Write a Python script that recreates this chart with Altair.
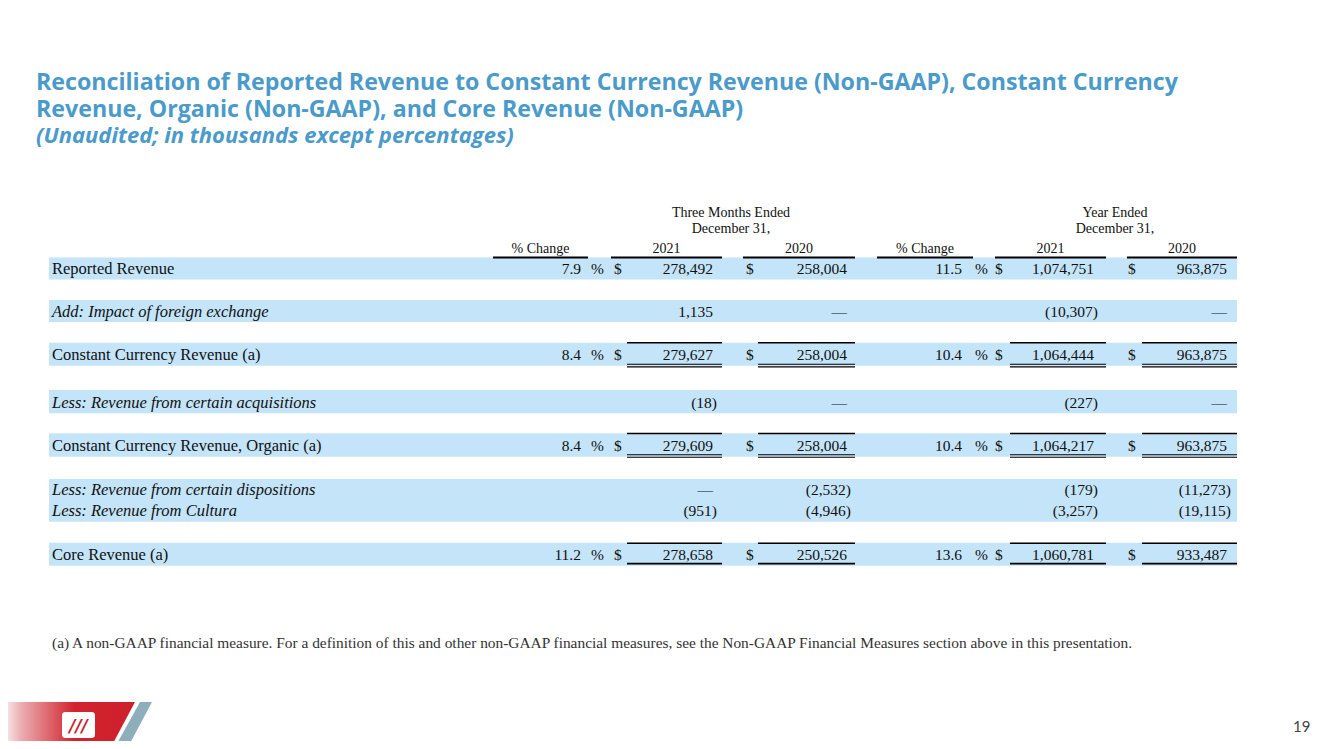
import altair as alt
import pandas as pd

# ---------------- data ----------------
title_lines = [
    "Reconciliation of Reported Revenue to Constant Currency Revenue (Non-GAAP), Constant Currency",
    "Revenue, Organic (Non-GAAP), and Core Revenue (Non-GAAP)",
]
subtitle = "(Unaudited; in thousands except percentages)"
group_headers = [["Three Months Ended", "December 31,"], ["Year Ended", "December 31,"]]
col_headers = ["% Change", "2021", "2020", "% Change", "2021", "2020"]

labels = [
    "Reported Revenue",
    "Add: Impact of foreign exchange",
    "Constant Currency Revenue (a)",
    "Less: Revenue from certain acquisitions",
    "Constant Currency Revenue, Organic (a)",
    "Less: Revenue from certain dispositions",
    "Less: Revenue from Cultura",
    "Core Revenue (a)",
]
italic_rows = [False, True, False, True, False, True, True, False]
qtr_pct = ["7.9", "", "8.4", "", "8.4", "", "", "11.2"]
qtr_2021 = ["278,492", "1,135", "279,627", "(18)", "279,609", "\u2014", "(951)", "278,658"]
qtr_2020 = ["258,004", "\u2014", "258,004", "\u2014", "258,004", "(2,532)", "(4,946)", "250,526"]
yr_pct = ["11.5", "", "10.4", "", "10.4", "", "", "13.6"]
yr_2021 = ["1,074,751", "(10,307)", "1,064,444", "(227)", "1,064,217", "(179)", "(3,257)", "1,060,781"]
yr_2020 = ["963,875", "\u2014", "963,875", "\u2014", "963,875", "(11,273)", "(19,115)", "933,487"]
footnote = ("(a) A non-GAAP financial measure. For a definition of this and other non-GAAP financial "
            "measures, see the Non-GAAP Financial Measures section above in this presentation.")
page_number = "19"

# ---------------- layout ----------------
W, H = 1317, 733
xs = alt.Scale(domain=[8, 8 + W], nice=False, zero=False)
ys = alt.Scale(domain=[8, 8 + H], nice=False, zero=False, reverse=True)
SERIF = "Liberation Serif"
SANS = "Open Sans"
TITLE_COLOR = "#4A9ACA"
BAND_COLOR = "#C4E4F9"

row_base = [274, 316.5, 359.5, 407.5, 450.5, 495, 516, 559.5]
bands = [(257.5, 279.5), (300, 322), (342.7, 365.7), (390, 413.3),
         (433.3, 456.7), (479, 521.7), (542.7, 565.7)]
band_x = (49, 1237)
value_cols = [581, 713, 847, 962, 1094, 1227]   # right edges
pct_sign_x = [591, 975]
dollar_x = [614, 746, 995, 1128]
hdr_lines = [(493, 588), (611, 722), (743, 855), (877, 973), (995, 1106), (1127, 1237)]
total_lines = [(627, 722), (758, 855), (1010, 1106), (1142, 1237)]
total_rows = [2, 4, 7]
total_top = {2: 342.7, 4: 433.5, 7: 543.3}
double_under = {2: (364.3, 366.9), 4: (454.7, 457.3)}
single_under = {7: 563.6}


def X(f="x"):
    return alt.X(f"{f}:Q", scale=xs, axis=None)


def Y(f="y"):
    return alt.Y(f"{f}:Q", scale=ys, axis=None)


def text_layer(rows, **mk):
    df = pd.DataFrame(rows, columns=["x", "y", "t"])
    return alt.Chart(df).mark_text(baseline="alphabetic", **mk).encode(
        x=X(), y=Y(), text="t:N")


layers = []

# bands
bdf = pd.DataFrame([{"x": band_x[0], "x2": band_x[1], "y": a, "y2": b} for a, b in bands])
layers.append(alt.Chart(bdf).mark_rect(color=BAND_COLOR).encode(
    x=X(), x2="x2:Q", y=Y(), y2="y2:Q"))

# title
layers.append(text_layer([(36, 90, title_lines[0]), (36, 117, title_lines[1])],
                         font=SANS, fontSize=23.2, fontWeight="bold", color=TITLE_COLOR, align="left"))
layers.append(text_layer([(36, 143, subtitle)],
                         font=SANS, fontSize=22, fontWeight="bold", fontStyle="italic",
                         color=TITLE_COLOR, align="left"))

# headers
hdr = []
for gi, cx in enumerate([731, 1115]):
    hdr.append((cx, 217, group_headers[gi][0]))
    hdr.append((cx, 233, group_headers[gi][1]))
for (a, b), h in zip(hdr_lines, col_headers):
    hdr.append(((a + b) / 2, 253, h))
layers.append(text_layer(hdr, font=SERIF, fontSize=14, color="#111", align="center"))

hl = pd.DataFrame([{"x": a, "x2": b, "y": 257.5} for a, b in hdr_lines])
layers.append(alt.Chart(hl).mark_rule(color="#000", strokeWidth=2).encode(x=X(), x2="x2:Q", y=Y()))

# row labels
norm = [(52, row_base[i], l) for i, l in enumerate(labels) if not italic_rows[i]]
ital = [(52, row_base[i], l) for i, l in enumerate(labels) if italic_rows[i]]
layers.append(text_layer(norm, font=SERIF, fontSize=16.5, color="#111", align="left"))
layers.append(text_layer(ital, font=SERIF, fontSize=16.5, fontStyle="italic", color="#111", align="left"))

# values
vals = []
for ci, col in enumerate([qtr_pct, qtr_2021, qtr_2020, yr_pct, yr_2021, yr_2020]):
    for i, v in enumerate(col):
        if v:
            dx = 4 if v.endswith(")") else 0
            vals.append((value_cols[ci] + dx, row_base[i], v))
layers.append(text_layer(vals, font=SERIF, fontSize=15.5, color="#111", align="right"))

syms = []
for i in range(len(labels)):
    if qtr_pct[i]:
        syms += [(pct_sign_x[0], row_base[i], "%"), (pct_sign_x[1], row_base[i], "%")]
        syms += [(dx, row_base[i], "$") for dx in dollar_x]
layers.append(text_layer(syms, font=SERIF, fontSize=15.5, color="#111", align="left"))

# total lines
tl = []
for r in total_rows:
    for a, b in total_lines:
        tl.append({"x": a, "x2": b, "y": total_top[r], "w": 1.6})
        if r in double_under:
            for yy in double_under[r]:
                tl.append({"x": a, "x2": b, "y": yy, "w": 1.1})
        if r in single_under:
            tl.append({"x": a, "x2": b, "y": single_under[r], "w": 1.8})
tldf = pd.DataFrame(tl)
layers.append(alt.Chart(tldf).mark_rule(color="#000").encode(
    x=X(), x2="x2:Q", y=Y(), strokeWidth=alt.StrokeWidth("w:Q", scale=None, legend=None)))

# footnote and page number
layers.append(text_layer([(52, 648, footnote)], font=SERIF, fontSize=15.4, color="#333", align="left"))
layers.append(text_layer([(1293, 731.5, page_number)], font="Lato", fontSize=15, color="#444", align="left"))

# logo band
red = pd.DataFrame({"y": [702, 749], "x": [0, 0], "x2": [135, 110]})
layers.append(alt.Chart(red).mark_area(
    orient="horizontal",
    color=alt.Gradient(gradient="linear", x1=0, x2=1, y1=0, y2=0,
                       stops=[alt.GradientStop(color="#FFFFFF", offset=0),
                              alt.GradientStop(color="#EBB0B4", offset=0.15),
                              alt.GradientStop(color="#D2242F", offset=0.55),
                              alt.GradientStop(color="#CE1F2C", offset=1)])
).encode(y=Y(), x=X(), x2="x2:Q"))
gray = pd.DataFrame({"y": [702, 749], "x": [140, 114], "x2": [152, 127]})
layers.append(alt.Chart(gray).mark_area(orient="horizontal", color="#8CAFBA").encode(
    y=Y(), x=X(), x2="x2:Q"))
sq = pd.DataFrame([{"x": 62, "x2": 95, "y": 712, "y2": 738}])
layers.append(alt.Chart(sq).mark_rect(color="#FFFFFF", cornerRadius=3).encode(
    x=X(), x2="x2:Q", y=Y(), y2="y2:Q"))
layers.append(text_layer([(78.5, 732, "///")], font="DejaVu Sans", fontSize=17, fontWeight="bold",
                         fontStyle="italic", color="#CE1F2C", align="center"))

chart = alt.layer(*layers).properties(
    width=W, height=H, padding=0, autosize="none", background="#FFFFFF"
).configure_view(stroke=None)

chart.save("out.html", embed_options={"renderer": "svg", "actions": False})
